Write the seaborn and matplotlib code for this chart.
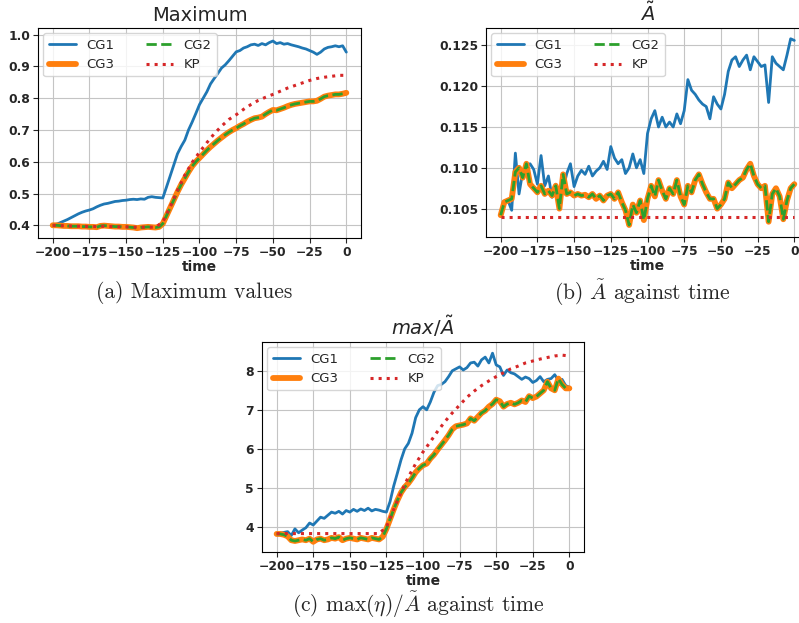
import numpy as np
import pandas as pd
import matplotlib
matplotlib.use("Agg")
import matplotlib.pyplot as plt
import seaborn as sns

sns.set_style("ticks")
plt.rcParams["font.family"] = ["DejaVu Sans"]
plt.rcParams["mathtext.fontset"] = "dejavusans"

# ---------------- data ----------------
time = [-200 + 2.5 * i for i in range(81)]
time_kp = [-200 + 5 * i for i in range(41)]

max_cg1 = [0.400, 0.403, 0.408, 0.413, 0.418, 0.424, 0.430, 0.436, 0.441, 0.445,
           0.448, 0.452, 0.458, 0.463, 0.467, 0.469, 0.472, 0.475, 0.476, 0.478,
           0.479, 0.481, 0.482, 0.481, 0.483, 0.482, 0.488, 0.490, 0.488, 0.487,
           0.486, 0.520, 0.555, 0.590, 0.625, 0.648, 0.668, 0.700, 0.725, 0.752,
           0.780, 0.800, 0.820, 0.845, 0.862, 0.878, 0.895, 0.905, 0.918, 0.932,
           0.946, 0.950, 0.958, 0.962, 0.968, 0.970, 0.966, 0.972, 0.968, 0.975,
           0.980, 0.972, 0.975, 0.970, 0.972, 0.968, 0.965, 0.962, 0.958, 0.955,
           0.950, 0.945, 0.938, 0.945, 0.955, 0.960, 0.962, 0.965, 0.962, 0.965,
           0.945]
max_cg = [0.400, 0.400, 0.399, 0.398, 0.398, 0.397, 0.397, 0.397, 0.396, 0.396,
          0.395, 0.395, 0.394, 0.398, 0.399, 0.398, 0.397, 0.396, 0.396, 0.395,
          0.395, 0.394, 0.393, 0.391, 0.393, 0.394, 0.395, 0.394, 0.393, 0.395,
          0.405, 0.430, 0.455, 0.480, 0.505, 0.528, 0.548, 0.568, 0.586, 0.600,
          0.612, 0.624, 0.636, 0.647, 0.657, 0.667, 0.676, 0.685, 0.693, 0.700,
          0.706, 0.713, 0.719, 0.726, 0.732, 0.737, 0.739, 0.742, 0.750, 0.757,
          0.763, 0.762, 0.766, 0.770, 0.775, 0.779, 0.782, 0.784, 0.786, 0.788,
          0.790, 0.790, 0.792, 0.798, 0.805, 0.808, 0.810, 0.812, 0.812, 0.814,
          0.817]
max_kp = [0.400, 0.399, 0.398, 0.397, 0.397, 0.396, 0.396, 0.397, 0.396, 0.395,
          0.395, 0.394, 0.394, 0.394, 0.394, 0.410, 0.458, 0.510, 0.558, 0.598,
          0.630, 0.660, 0.688, 0.712, 0.733, 0.748, 0.765, 0.780, 0.793, 0.803,
          0.812, 0.822, 0.832, 0.840, 0.848, 0.856, 0.862, 0.866, 0.869, 0.872,
          0.872]

at_cg1 = [0.1042, 0.1058, 0.1060, 0.1048, 0.1118, 0.1068, 0.1095, 0.1102, 0.1105, 0.1098,
          0.1080, 0.1115, 0.1078, 0.1090, 0.1064, 0.1080, 0.1070, 0.1074, 0.1093, 0.1105,
          0.1077, 0.1090, 0.1097, 0.1092, 0.1102, 0.1090, 0.1096, 0.1100, 0.1108, 0.1098,
          0.1126, 0.1112, 0.1105, 0.1110, 0.1093, 0.1100, 0.1117, 0.1100, 0.1110, 0.1093,
          0.1142, 0.1160, 0.1170, 0.1150, 0.1162, 0.1150, 0.1156, 0.1150, 0.1166, 0.1154,
          0.1170, 0.1208, 0.1195, 0.1190, 0.1183, 0.1178, 0.1175, 0.1160, 0.1187, 0.1178,
          0.1172, 0.1190, 0.1218, 0.1232, 0.1236, 0.1224, 0.1232, 0.1238, 0.1220, 0.1236,
          0.1230, 0.1224, 0.1226, 0.1180, 0.1236, 0.1228, 0.1224, 0.1220, 0.1238, 0.1258,
          0.1256]
at_cg = [0.1042, 0.1058, 0.1060, 0.1062, 0.1095, 0.1100, 0.1088, 0.1105, 0.1080, 0.1075,
         0.1070, 0.1078, 0.1068, 0.1072, 0.1066, 0.1078, 0.1050, 0.1092, 0.1068, 0.1070,
         0.1066, 0.1068, 0.1066, 0.1067, 0.1064, 0.1068, 0.1062, 0.1066, 0.1060, 0.1066,
         0.1068, 0.1062, 0.1070, 0.1058, 0.1048, 0.1030, 0.1055, 0.1045, 0.1060, 0.1036,
         0.1062, 0.1078, 0.1065, 0.1085, 0.1072, 0.1062, 0.1075, 0.1068, 0.1085, 0.1065,
         0.1055, 0.1078, 0.1070, 0.1085, 0.1092, 0.1080, 0.1070, 0.1062, 0.1062, 0.1050,
         0.1055, 0.1062, 0.1082, 0.1075, 0.1080, 0.1085, 0.1088, 0.1098, 0.1105, 0.1090,
         0.1080, 0.1075, 0.1078, 0.1034, 0.1068, 0.1075, 0.1065, 0.1037, 0.1060, 0.1075,
         0.1080]
at_kp = [0.104, 0.104, 0.104, 0.104, 0.104, 0.104, 0.104, 0.104, 0.104, 0.104,
         0.104, 0.104, 0.104, 0.104, 0.104, 0.104, 0.104, 0.104, 0.104, 0.104,
         0.104, 0.104, 0.104, 0.104, 0.104, 0.104, 0.104, 0.104, 0.104, 0.104,
         0.104, 0.104, 0.104, 0.104, 0.104, 0.104, 0.104, 0.104, 0.104, 0.104,
         0.104]

ratio_cg1 = [3.82, 3.84, 3.86, 3.88, 3.78, 3.95, 3.85, 3.92, 3.98, 4.10,
             4.05, 4.15, 4.25, 4.22, 4.30, 4.38, 4.35, 4.40, 4.33, 4.42,
             4.38, 4.45, 4.40, 4.46, 4.42, 4.48, 4.41, 4.45, 4.43, 4.40,
             4.38, 4.65, 5.05, 5.38, 5.72, 6.00, 6.14, 6.40, 6.80, 7.00,
             7.08, 7.00, 7.20, 7.45, 7.62, 7.65, 7.72, 7.85, 8.00, 8.05,
             8.10, 8.02, 8.08, 8.20, 8.22, 8.12, 8.28, 8.35, 8.20, 8.45,
             8.15, 8.10, 7.88, 8.02, 7.95, 7.92, 7.85, 7.78, 7.84, 7.80,
             7.70, 7.75, 7.85, 7.72, 7.78, 7.80, 7.90, 7.75, 7.78, 7.62,
             7.58]
ratio_cg = [3.82, 3.82, 3.80, 3.76, 3.66, 3.64, 3.66, 3.68, 3.66, 3.70,
            3.62, 3.68, 3.70, 3.66, 3.68, 3.72, 3.70, 3.74, 3.66, 3.70,
            3.72, 3.70, 3.68, 3.72, 3.70, 3.68, 3.72, 3.70, 3.68, 3.75,
            3.95, 4.20, 4.45, 4.68, 4.88, 5.02, 5.12, 5.25, 5.40, 5.50,
            5.58, 5.62, 5.75, 5.85, 5.98, 6.10, 6.22, 6.35, 6.50, 6.58,
            6.60, 6.62, 6.65, 6.78, 6.72, 6.82, 6.92, 6.98, 7.08, 7.15,
            7.26, 7.22, 7.08, 7.15, 7.18, 7.14, 7.18, 7.24, 7.20, 7.35,
            7.30, 7.34, 7.42, 7.50, 7.72, 7.55, 7.50, 7.80, 7.65, 7.55,
            7.55]
ratio_kp = [3.83, 3.83, 3.83, 3.83, 3.83, 3.83, 3.83, 3.83, 3.83, 3.83,
            3.83, 3.83, 3.83, 3.83, 3.83, 4.00, 4.45, 4.88, 5.28, 5.62,
            5.92, 6.18, 6.45, 6.70, 6.92, 7.12, 7.32, 7.48, 7.62, 7.74,
            7.85, 7.95, 8.05, 8.12, 8.20, 8.25, 8.30, 8.34, 8.38, 8.40,
            8.38]

x_ticks = [-200, -175, -150, -125, -100, -75, -50, -25, 0]

# ---------------- figure ----------------
fig = plt.figure(figsize=(7.99, 6.23), dpi=100)
W, H = 799, 623


def add_axes(l, r, t, b):
    return fig.add_axes([l / W, 1 - b / H, (r - l) / W, (b - t) / H])


ax_a = add_axes(38, 361, 28, 238)
ax_b = add_axes(486, 809, 28, 237)   # right edge runs past the image, as in the reference
ax_c = add_axes(262, 584, 342, 552)

blue, orange, green, red = "#1f77b4", "#ff7f0e", "#2ca02c", "#d62728"


def draw(ax, cg1, cg, kp, title, yticks, ylabels, ylim):
    sns.lineplot(x=time, y=cg1, ax=ax, color=blue, lw=2.0, label="CG1")
    sns.lineplot(x=time, y=cg, ax=ax, color=orange, lw=4.2, label="CG3")
    sns.lineplot(x=time, y=cg, ax=ax, color=green, lw=2.0, linestyle="--", label="CG2")
    sns.lineplot(x=time_kp, y=kp, ax=ax, color=red, lw=2.2, linestyle=":", label="KP")
    ax.set_xlim(-210, 10)
    ax.set_ylim(*ylim)
    ax.set_xticks(x_ticks, labels=[str(v).replace("-", "\u2212") for v in x_ticks],
                  fontweight="bold", fontsize=8.9)
    ax.set_yticks(yticks, labels=ylabels, fontweight="bold", fontsize=8.9)
    ax.grid(True, color="#c4c4c4", lw=0.8)
    for s in ax.spines.values():
        s.set_color("black")
        s.set_linewidth(0.8)
    ax.tick_params(length=3.5, width=0.8, pad=2.2)
    ax.set_xlabel("time", fontweight="bold", fontsize=10, labelpad=1)
    ax.set_ylabel("")
    ax.set_title(title, fontsize=14, pad=5)
    ax.legend(loc="upper left", ncol=2, fontsize=9.5, handlelength=2.05,
              columnspacing=2.4, borderaxespad=0.4, framealpha=0.8)


draw(ax_a, max_cg1, max_cg, max_kp, "Maximum",
     [0.4, 0.5, 0.6, 0.7, 0.8, 0.9, 1.0],
     ["0.4", "0.5", "0.6", "0.7", "0.8", "0.9", "1.0"], (0.36, 1.021))
draw(ax_b, at_cg1, at_cg, at_kp, r"$\tilde{A}$",
     [0.105, 0.110, 0.115, 0.120, 0.125],
     ["0.105", "0.110", "0.115", "0.120", "0.125"], (0.10153, 0.12712))
draw(ax_c, ratio_cg1, ratio_cg, ratio_kp, r"$max/\tilde{A}$",
     [4, 5, 6, 7, 8], ["4", "5", "6", "7", "8"], (3.358, 8.737))

# captions (serif, LaTeX-like)
cap = dict(family="cmr10", fontsize=15.5, ha="center", va="center",
           math_fontfamily="cm")
fig.text(194 / W, 1 - 293 / H, "(a) Maximum values", **cap)
fig.text(642 / W, 1 - 293 / H, r"(b) $\tilde{A}$ against time", **cap)
fig.text(418 / W, 1 - 605 / H, r"(c) $\max(\eta)/\tilde{A}$ against time", **cap)

fig.savefig("out.png", dpi=100)
